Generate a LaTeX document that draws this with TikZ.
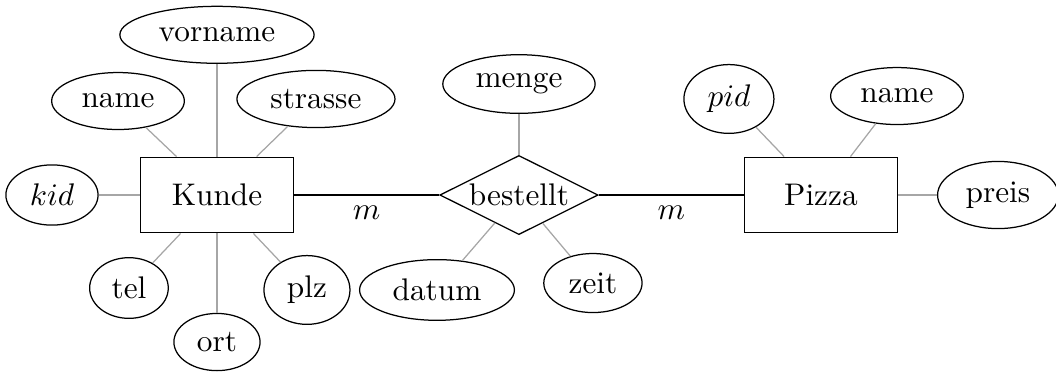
\documentclass[tikz,border=0pt]{standalone}
\usepackage{amsmath,amssymb}
\usepackage{tikz}
\usetikzlibrary{positioning,shapes.geometric}

\tikzset{
  entity/.style={rectangle, draw, minimum width=1.72cm, minimum height=0.85cm},
  relation/.style={diamond, draw, aspect=2, inner sep=0.75pt},
  attribute/.style={ellipse, draw, minimum height=0.64cm},
  attrline/.style={gray!70},
}

\begin{document}
\begin{tikzpicture}[on grid]
			\useasboundingbox (-2.438,-1.989) rectangle (9.427,2.191);
			% entities and relationship
			\node (kunde) [entity] {Kunde};
			\node (bestellt) [relation, right=3.393 of kunde] {bestellt};
			\node (pizza) [entity, right=3.393 of bestellt] {Pizza};
			
			% attributes of Kunde
			\node (kvorname) [attribute, above=1.80 of kunde] {vorname};
			\node (kname) [attribute, above=1.056 of kunde, xshift=-1.112cm] {name};
			\node (kstrasse) [attribute, above=1.079 of kunde, xshift=1.112cm] {strasse};
			\node (kid) [attribute, left=1.854 of kunde] {$kid$};
			\node (ktel) [attribute, below=1.045 of kunde, xshift=-0.989cm] {tel};
			\node (kort) [attribute, below=1.652 of kunde] {ort};
			\node (kplz) [attribute, below=1.067 of kunde, xshift=1.011cm] {plz};
			
			% attributes of bestellt
			\node (bmenge) [attribute, above=1.247 of bestellt] {menge};
			\node (bdatum) [attribute, below=1.067 of bestellt, xshift=-0.921cm] {datum};
			\node (bzeit) [attribute, below=0.989 of bestellt, xshift=0.831cm] {zeit};
			
			% attributes of Pizza
			\node (pid) [attribute, above=1.079 of pizza, xshift=-1.034cm] {$pid$};
			\node (pname) [attribute, above=1.112 of pizza, xshift=0.854cm] {name};
			\node (ppreis) [attribute, right=1.989 of pizza] {preis};
			
			\foreach \a in {kvorname,kname,kstrasse,kid,ktel,kort,kplz}
				\draw [attrline] (kunde) -- (\a);
			\foreach \a in {bmenge,bdatum,bzeit}
				\draw [attrline] (bestellt) -- (\a);
			\foreach \a in {pid,pname,ppreis}
				\draw [attrline] (pizza) -- (\a);
			
			\draw (kunde) -- node [below] {$m$} (bestellt);
			\draw (bestellt) -- node [below] {$m$} (pizza);
		\end{tikzpicture}
\end{document}
